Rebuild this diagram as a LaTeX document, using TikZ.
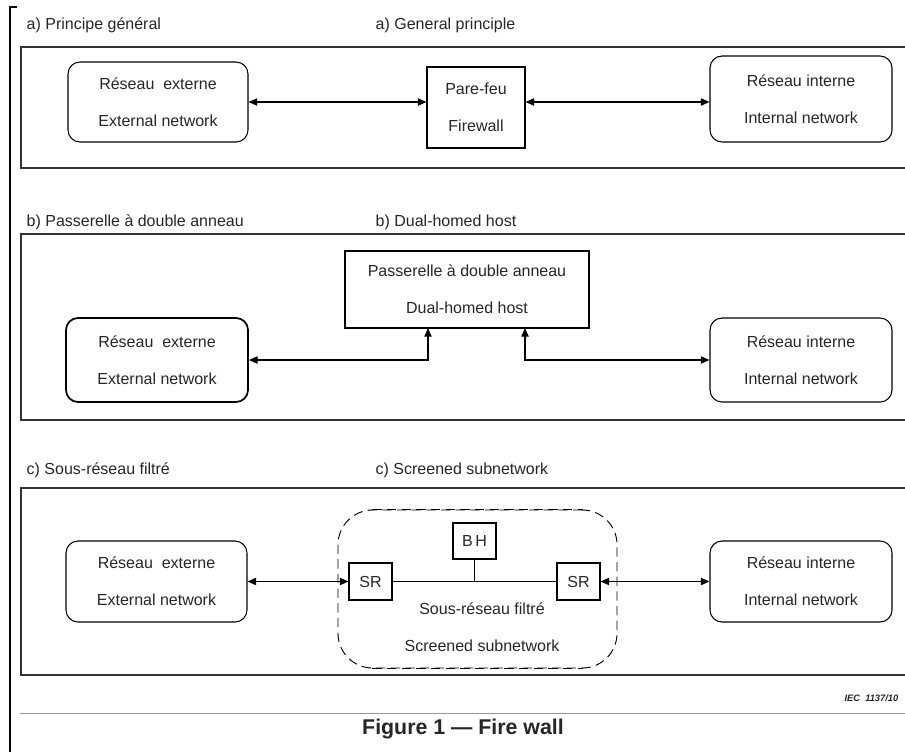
\documentclass[tikz,border=0pt]{standalone}
\usepackage{fontspec}
\setmainfont{Liberation Sans}
\usepackage{tikz}
\usetikzlibrary{arrows.meta,positioning}

\begin{document}
\begin{tikzpicture}[x=0.75pt, y=-0.75pt,
    >={Triangle[length=6.5pt,width=5.5pt]},
    every node/.style={font=\fontsize{12}{14}\selectfont, text=black!85},
    twoline/.style={align=center, font=\fontsize{12}{27.75}\selectfont},
    panel/.style={draw=black!80, line width=1pt},
    net/.style={draw, rounded corners=9pt, line width=0.8pt, inner sep=0pt, twoline},
    box/.style={draw, line width=0.8pt, inner sep=0pt},
    arr/.style={<->, line width=0.9pt},
    title/.style={anchor=west}]
        \useasboundingbox (0,0) rectangle (905,751);

        % Frame
        \draw[line width=1.2pt] (17,7) -- (10,7) -- (10,755);
        \draw[black!40, line width=0.6pt] (20,713) -- (910,713);

        % a) General principle
        \node[title] (ta1) at (22,25) {a) Principe général};
        \node[title] (ta2) at (371,25) {a) General principle};
        \draw[panel] (21,47) rectangle (910,168);
        \node[net, minimum width=135pt, minimum height=60pt] (exta) at (158,102) {Réseau~ externe\\External network};
        \node[box, twoline, minimum width=73.5pt, minimum height=60.75pt] (fw) at (476,107.5) {Pare-feu\\Firewall};
        \node[net, minimum width=136.5pt, minimum height=64.5pt] (inta) at (801,99) {Réseau interne\\Internal network};
        \draw[arr] (exta.east) -- (fw.west |- exta.east);
        \draw[arr] (fw.east |- exta.east) -- (inta.west |- exta.east);

        % b) Dual-homed host
        \node[title] (tb1) at (22,222) {b) Passerelle à double anneau};
        \node[title] (tb2) at (371,222) {b) Dual-homed host};
        \draw[panel] (21,234) rectangle (910,420);
        \node[box, twoline, minimum width=183pt, minimum height=57.75pt] (host) at (467,289.5) {Passerelle à double anneau\\Dual-homed host};
        \node[net, line width=1.3pt, minimum width=136.5pt, minimum height=63pt] (extb) at (157,360) {Réseau~ externe\\External network};
        \node[net, minimum width=136.5pt, minimum height=63pt] (intb) at (801,360) {Réseau interne\\Internal network};
        \coordinate (hl) at (428,328);
        \coordinate (hr) at (525,328);
        \draw[arr] (extb.east) -| (hl);
        \draw[arr] (hr) |- (intb.west);

        % c) Screened subnetwork
        \node[title] (tc1) at (22,470) {c) Sous-réseau filtré};
        \node[title] (tc2) at (371,470) {c) Screened subnetwork};
        \draw[panel] (21,488) rectangle (910,675);
        \node[draw, rounded corners=26pt, line width=0.7pt, dash pattern=on 7pt off 4pt,
              minimum width=209.25pt, minimum height=118.5pt] (scr) at (477.5,589) {};
        \draw[line width=1.4pt, dash pattern=on 7pt off 4pt] ([xshift=26pt]scr.north west) -- ([xshift=-26pt]scr.north east);
        \draw[line width=1.4pt, dash pattern=on 7pt off 4pt] ([xshift=26pt]scr.south west) -- ([xshift=-26pt]scr.south east);
        \node[net, minimum width=135.75pt, minimum height=60.75pt] (extc) at (156.5,581.5) {Réseau~ externe\\External network};
        \node[net, minimum width=136.5pt, minimum height=60.75pt] (intc) at (801,581.5) {Réseau interne\\Internal network};
        \node[box, minimum width=32.25pt, minimum height=27pt] (bh) at (474.5,541) {B\,H};
        \node[box, minimum width=32.25pt, minimum height=27.75pt] (sr1) at (370.5,581.5) {SR};
        \node[box, minimum width=32.25pt, minimum height=27.75pt] (sr2) at (578.5,581.5) {SR};
        \node[twoline] (sub) at (482,627.5) {Sous-réseau filtré\\Screened subnetwork};
        \draw[line width=0.8pt] (sr1.east) -- (sr2.west);
        \draw[line width=0.8pt] (bh.south) -- (bh.south |- sr1.east);
        \draw[arr] (extc.east) -- (sr1.west);
        \draw[arr] (sr2.east) -- (intc.west);

        % Caption
        \node[anchor=east, font=\fontsize{7}{8}\selectfont\bfseries\itshape] (iec) at (903,698) {IEC\ \ 1137/10};
        \node[font=\fontsize{16}{18}\selectfont\bfseries] (cap) at (463,729) {Figure 1 — Fire wall};
    \end{tikzpicture}
\end{document}
